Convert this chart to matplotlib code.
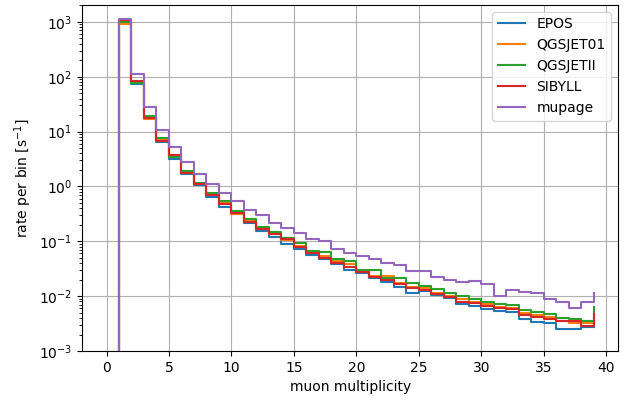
import matplotlib
matplotlib.use("Agg")
import matplotlib.pyplot as plt
import numpy as np

# muon multiplicity, step edges 0..39 (first bin empty)
mult = np.arange(40)

epos = [0, 1050, 75, 17.5, 6.5, 3.2, 1.72, 1.05, 0.65, 0.42, 0.31,
        0.217, 0.155, 0.121, 0.090, 0.073, 0.056, 0.047, 0.038, 0.030, 0.026,
        0.0212, 0.0183, 0.0148, 0.0115, 0.0125, 0.0105, 0.0091, 0.0072, 0.0066, 0.00575,
        0.00536, 0.0052, 0.00378, 0.00342, 0.0032, 0.00252, 0.00252, 0.0027, 0.0027]
qgsjet01 = [0, 910, 78, 17, 6.9, 3.5, 1.8, 1.1, 0.72, 0.50, 0.32,
            0.235, 0.17, 0.138, 0.105, 0.082, 0.062, 0.053, 0.043, 0.038, 0.029,
            0.023, 0.0232, 0.0171, 0.015, 0.0138, 0.0115, 0.0100, 0.0087, 0.0079, 0.0071,
            0.0064, 0.0062, 0.0050, 0.0046, 0.0042, 0.0036, 0.0033, 0.0033, 0.0040]
qgsjetii = [0, 1000, 78, 19.3, 7.5, 3.5, 1.92, 1.16, 0.76, 0.54, 0.36,
            0.25, 0.184, 0.149, 0.113, 0.094, 0.066, 0.0635, 0.047, 0.044, 0.030,
            0.030, 0.0215, 0.021, 0.0175, 0.0153, 0.0133, 0.0115, 0.0102, 0.0087, 0.0079,
            0.0071, 0.0069, 0.0056, 0.0051, 0.00466, 0.00405, 0.00383, 0.00352, 0.00625]
sibyll = [0, 1100, 84, 18, 6.7, 3.7, 1.77, 1.09, 0.70, 0.48, 0.33,
          0.226, 0.165, 0.134, 0.108, 0.079, 0.060, 0.050, 0.040, 0.034, 0.028,
          0.0225, 0.0196, 0.0164, 0.0142, 0.0129, 0.0109, 0.0095, 0.0079, 0.0074, 0.0066,
          0.0060, 0.00575, 0.00453, 0.00422, 0.00383, 0.00352, 0.00352, 0.00288, 0.00472]
mupage = [0, 1150, 111, 28, 10.9, 5.3, 2.8, 1.67, 1.10, 0.75, 0.54,
          0.38, 0.30, 0.217, 0.172, 0.143, 0.11, 0.10, 0.072, 0.060, 0.054,
          0.047, 0.040, 0.037, 0.0286, 0.0286, 0.022, 0.020, 0.0183, 0.019, 0.0168,
          0.010, 0.0129, 0.0117, 0.0112, 0.0089, 0.0078, 0.0061, 0.0079, 0.0113]

series = [("EPOS", epos), ("QGSJET01", qgsjet01), ("QGSJETII", qgsjetii),
          ("SIBYLL", sibyll), ("mupage", mupage)]

fig, ax = plt.subplots(figsize=(6.27, 4.03), dpi=100)
for name, vals in series:
    ax.step(mult, vals, where="post", label=name)

ax.set_yscale("log")
ax.set_ylim(1e-3, 2050)
ax.grid(True)
ax.legend(loc="upper right")
ax.set_xlabel("muon multiplicity")
ax.set_ylabel("rate per bin [s$^{-1}$]")
fig.subplots_adjust(left=0.131, right=0.986, top=0.988, bottom=0.129)
fig.savefig("out.png", dpi=100)
